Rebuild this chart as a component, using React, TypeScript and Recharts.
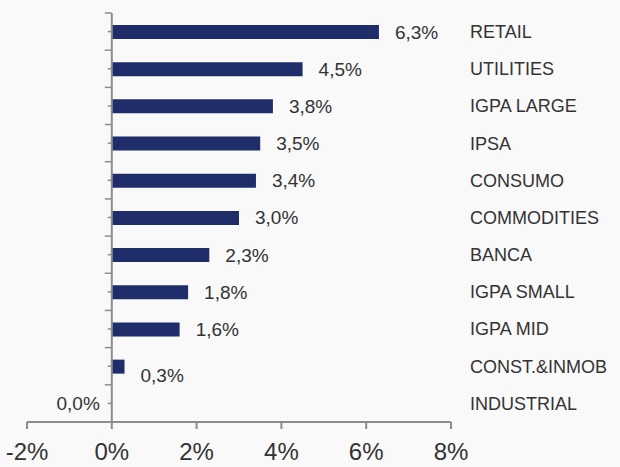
import React from 'react';
import { BarChart, Bar, XAxis, YAxis, ReferenceLine, ReferenceDot, LabelList } from 'recharts';

const categories = [
  'RETAIL',
  'UTILITIES',
  'IGPA LARGE',
  'IPSA',
  'CONSUMO',
  'COMMODITIES',
  'BANCA',
  'IGPA SMALL',
  'IGPA MID',
  'CONST.&INMOB',
  'INDUSTRIAL',
];
const values = [6.3, 4.5, 3.8, 3.5, 3.4, 3.0, 2.3, 1.8, 1.6, 0.3, 0.0];
const xTicks = [-2, 0, 2, 4, 6, 8];

const data = categories.map((name, i) => ({ name, value: values[i] }));
// zero-valued categories get no bar, so their label is placed with a dot
const zeroRows = data.filter((d) => d.value === 0);

const fmt = (v: number) => `${v.toFixed(1).replace('.', ',')}%`;

// zero line with Excel style tick marks (long at band edges, short at centres)
const ZeroAxis = (props: any) => {
  const { x1, y1, x2, y2 } = props;
  const top = Math.min(y1, y2);
  const bottom = Math.max(y1, y2);
  const band = (bottom - top) / categories.length;
  const marks = [];
  for (let i = 0; i <= categories.length; i++) {
    const y = top + band * i;
    marks.push(<line key={`b${i}`} x1={x1 - 7} x2={x1} y1={y} y2={y} stroke="#8c8c8c" strokeWidth={1.5} />);
    if (i < categories.length) {
      const c = y + band / 2;
      marks.push(<line key={`c${i}`} x1={x1 - 4} x2={x1} y1={c} y2={c} stroke="#8c8c8c" strokeWidth={1.5} />);
    }
  }
  return (
    <g>
      <line x1={x1} x2={x2} y1={y1} y2={y2} stroke="#8c8c8c" strokeWidth={2} />
      {marks}
    </g>
  );
};

const ValueLabel = (props: any) => {
  const { x, y, width, height, value } = props;
  const cy = y + height / 2;
  const dy = value < 0.5 ? 9 : 0;
  return (
    <text x={x + width + 16} y={cy + dy} textAnchor="start" dominantBaseline="central" fill="#333" fontSize={19}>
      {fmt(value)}
    </text>
  );
};

const ZeroLabel = (v: number) => (props: any) => {
  const { viewBox } = props;
  const cx = viewBox.x + (viewBox.width || 0) / 2;
  const cy = viewBox.y + (viewBox.height || 0) / 2;
  return (
    <text x={cx - 12} y={cy} textAnchor="end" dominantBaseline="central" fill="#333" fontSize={19}>
      {fmt(v)}
    </text>
  );
};

export default function App() {
  return (
    <div
      style={{
        position: 'fixed',
        left: 0,
        top: 0,
        width: 620,
        height: 467,
        background: '#f9f9f9',
        fontFamily: '"Liberation Sans", Arial, sans-serif',
      }}
    >
      <BarChart
        width={620}
        height={467}
        data={data}
        layout="vertical"
        margin={{ top: 13, right: 0, left: 27, bottom: 0 }}
      >
        <XAxis
          type="number"
          domain={[-2, 8]}
          ticks={xTicks}
          tickFormatter={(v: number) => `${v}%`}
          stroke="#8c8c8c"
          strokeWidth={2}
          tickSize={7}
          tickMargin={14}
          height={45}
          tick={{ fill: '#333', fontSize: 24 }}
          interval={0}
        />
        <YAxis
          type="category"
          dataKey="name"
          orientation="right"
          width={169}
          axisLine={false}
          tickLine={false}
          tickMargin={13}
          tick={{ fill: '#333', fontSize: 18, textAnchor: 'start' }}
          interval={0}
        />
        <ReferenceLine x={0} shape={ZeroAxis} />
        <Bar dataKey="value" fill="#1f2d6b" barSize={14} isAnimationActive={false}>
          <LabelList dataKey="value" content={ValueLabel} />
        </Bar>
        {zeroRows.map((d) => (
          <ReferenceDot
            key={d.name}
            x={d.value}
            y={d.name}
            r={0}
            fill="none"
            stroke="none"
            label={ZeroLabel(d.value)}
          />
        ))}
      </BarChart>
    </div>
  );
}
